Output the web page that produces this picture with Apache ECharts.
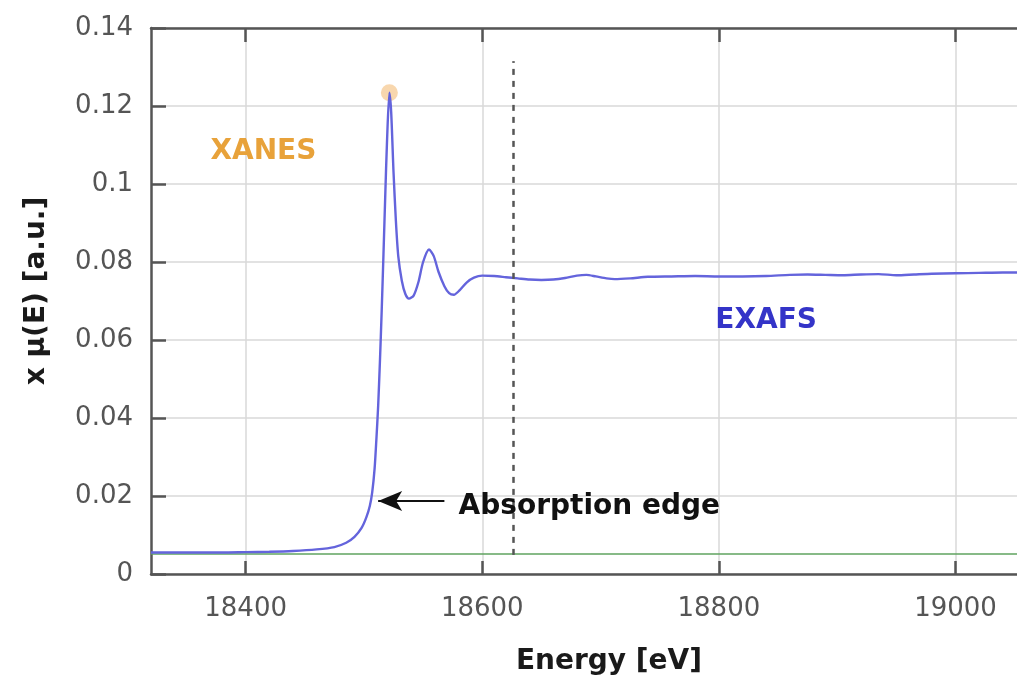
<!DOCTYPE html>
<html>
<head>
<meta charset="utf-8">
<script src="https://cdn.jsdelivr.net/npm/echarts@6/dist/echarts.min.js"></script>
<style>
  html, body { margin: 0; padding: 0; background: #fff; }
  #chart { width: 1017px; height: 682px; }
</style>
</head>
<body>
<div id="chart"></div>
<script>
// Measured absorption spectrum around the K edge
const energy = [
  18320, 18350, 18380, 18400, 18420, 18440, 18460, 18475, 18485, 18492,
  18498, 18502, 18505, 18507, 18509, 18510.5, 18512, 18513.5, 18515, 18516.5,
  18518, 18519.5, 18521.5, 18523, 18525, 18527, 18529, 18532, 18535, 18538,
  18542, 18546, 18550, 18555, 18559, 18563, 18568, 18572, 18576, 18581,
  18587, 18593, 18600, 18610, 18620, 18630, 18640, 18650, 18660, 18670,
  18680, 18688, 18696, 18705, 18712, 18725, 18740, 18760, 18780, 18800,
  18820, 18840, 18860, 18875, 18890, 18905, 18920, 18935, 18950, 18965,
  18980, 19000, 19020, 19040, 19052
];
const absorption = [
  0.0055, 0.0055, 0.0055, 0.0056, 0.0057, 0.0059, 0.0063, 0.0069, 0.0080, 0.0095,
  0.0118, 0.0145, 0.0175, 0.0210, 0.0270, 0.0345, 0.0430, 0.0545, 0.0675, 0.0820,
  0.0970, 0.1110, 0.1234, 0.1185, 0.1030, 0.0905, 0.0815, 0.0752, 0.0718, 0.0706,
  0.0714, 0.0748, 0.0800, 0.0832, 0.0815, 0.0775, 0.0738, 0.0720, 0.0716, 0.0728,
  0.0748, 0.0760, 0.0765, 0.0764, 0.0761, 0.0758, 0.0755, 0.0754, 0.0755, 0.0759,
  0.0765, 0.0767, 0.0763, 0.0758, 0.0756, 0.0758, 0.0762, 0.0763, 0.0764, 0.0763,
  0.0763, 0.0764, 0.0767, 0.0768, 0.0767, 0.0766, 0.0768, 0.0769, 0.0766, 0.0768,
  0.0770, 0.0771, 0.0772, 0.0773, 0.0773
];
// Pre-edge background level
const baselineEnergy = [18320, 19052];
const baselineValue = [0.0051, 0.0051];

// White line maximum and the XANES / EXAFS boundary
const whiteLine = [18521.5, 0.1234];
const regionBoundary = 18626;
const boundaryRange = [0.0049, 0.1315];

// Edge arrow (tail, tip) and annotation anchors
const edgeArrow = [[18568, 0.0187], [18512, 0.0187]];
const xanesLabel = [18415, 0.1083];
const exafsLabel = [18840, 0.0650];
const edgeLabel = [18580, 0.0172];

const xTicks = [18400, 18600, 18800, 19000];
const xRange = [18320, 19052];
const yRange = [0, 0.14];
const yStep = 0.02;

const FONT = 'DejaVu Sans';
const axisDark = '#555555';

const chart = echarts.init(document.getElementById('chart'));

const curve = energy.map((e, i) => [e, absorption[i]]);
const baseline = baselineEnergy.map((e, i) => [e, baselineValue[i]]);

chart.setOption({
  animation: false,
  backgroundColor: '#ffffff',
  grid: { left: 151, top: 28, right: 0, bottom: 108, containLabel: false },
  xAxis: [
    {
      type: 'value',
      position: 'bottom',
      min: xRange[0],
      max: xRange[1],
      name: 'Energy [eV]',
      nameLocation: 'middle',
      nameGap: 74,
      nameTextStyle: { fontFamily: FONT, fontWeight: 'bold', fontSize: 28, color: '#1a1a1a', padding: [0, 0, 0, 50] },
      axisLine: { show: true, lineStyle: { color: axisDark, width: 2.5 } },
      axisTick: { show: true, inside: true, length: 13, customValues: xTicks, lineStyle: { color: axisDark, width: 2.5 } },
      axisLabel: { customValues: xTicks, formatter: v => String(v), fontFamily: FONT, fontSize: 26, color: '#555', margin: 22 },
      splitLine: { show: true, lineStyle: { color: '#d9d9d9', width: 1.5 } }
    },
    {
      type: 'value',
      position: 'top',
      min: xRange[0],
      max: xRange[1],
      axisLine: { show: true, lineStyle: { color: axisDark, width: 2.5 } },
      axisTick: { show: true, inside: true, length: 14, customValues: xTicks, lineStyle: { color: axisDark, width: 2.5 } },
      axisLabel: { show: false },
      splitLine: { show: false }
    }
  ],
  yAxis: {
    type: 'value',
    min: yRange[0],
    max: yRange[1],
    interval: yStep,
    name: 'x \u03bc(E) [a.u.]',
    nameLocation: 'middle',
    nameGap: 100,
    nameTextStyle: { fontFamily: FONT, fontWeight: 'bold', fontSize: 28, color: '#1a1a1a', padding: [0, 0, 0, 20] },
    axisLine: { show: true, lineStyle: { color: axisDark, width: 2.5 } },
    axisTick: { show: true, inside: true, length: 15, lineStyle: { color: axisDark, width: 2.5 } },
    axisLabel: { fontFamily: FONT, fontSize: 26, color: '#555', margin: 18 },
    splitLine: { show: true, lineStyle: { color: '#d9d9d9', width: 1.5 } }
  },
  series: [
    {
      name: 'baseline',
      type: 'line',
      data: baseline,
      symbol: 'none',
      lineStyle: { color: '#5fa35f', width: 1.5 },
      z: 2
    },
    {
      name: 'mu',
      type: 'line',
      data: curve,
      symbol: 'none',
      smooth: 0.25,
      lineStyle: { color: '#6464dc', width: 2.4 },
      z: 3,
      markLine: {
        silent: true,
        animation: false,
        symbol: 'none',
        label: { show: false },
        data: [
          [
            { coord: [regionBoundary, boundaryRange[0]], lineStyle: { color: '#555', width: 2.5, type: [6, 6] } },
            { coord: [regionBoundary, boundaryRange[1]] }
          ],
          [
            { coord: edgeArrow[0], symbol: 'none', lineStyle: { color: '#111', width: 2, type: 'solid' } },
            { coord: edgeArrow[1], symbol: 'arrow', symbolSize: [15, 24] }
          ]
        ]
      },
      markPoint: {
        silent: true,
        animation: false,
        symbol: 'circle',
        symbolSize: 0,
        data: [
          {
            coord: xanesLabel,
            label: { show: true, formatter: 'XANES', fontFamily: FONT, fontWeight: 'bold', fontSize: 28, color: '#e8a23a', align: 'center', verticalAlign: 'middle', position: 'inside' }
          },
          {
            coord: exafsLabel,
            label: { show: true, formatter: 'EXAFS', fontFamily: FONT, fontWeight: 'bold', fontSize: 28, color: '#3434c8', align: 'center', verticalAlign: 'middle', position: 'inside' }
          },
          {
            coord: edgeLabel,
            label: { show: true, formatter: 'Absorption edge', fontFamily: FONT, fontWeight: 'bold', fontSize: 28, color: '#111', align: 'left', verticalAlign: 'middle', position: 'inside' }
          }
        ]
      }
    },
    {
      name: 'white line',
      type: 'scatter',
      data: [whiteLine],
      symbol: 'circle',
      symbolSize: 17,
      itemStyle: { color: 'rgba(240,165,70,0.55)' },
      z: 2
    }
  ]
});
</script>
</body>
</html>
